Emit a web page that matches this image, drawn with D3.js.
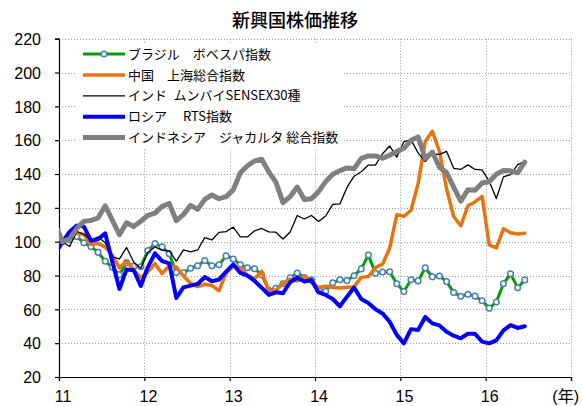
<!DOCTYPE html>
<html>
<head>
<meta charset="utf-8">
<script src="https://cdn.jsdelivr.net/npm/d3@7"></script>
<style>
  body { margin: 0; background: #fff; }
  svg { display: block; }
  text { white-space: pre; }
</style>
</head>
<body>
<svg id="chart" width="582" height="406"></svg>
<script>
// Monthly closes, index Jan 2011 = 100. First entry is Dec 2010 (left of the axis, clipped).
const monthIndex = d3.range(-1, 66); // months since Jan 2011

const brazil = [103.0, 100, 101.2, 103.0, 99.3, 97.1, 93.7, 88.4, 84.9, 80.5, 87.6, 85.4, 85.2,
  94.7, 98.9, 96.9, 92.9, 81.8, 81.6, 84.3, 85.7, 88.9, 85.7, 86.3, 91.6,
  89.8, 86.3, 84.6, 84.0, 80.4, 71.3, 72.4, 75.1, 78.6, 81.5, 78.8, 77.4,
  71.6, 70.7, 75.7, 77.5, 77.0, 79.9, 83.9, 92.1, 81.3, 82.1, 82.2, 75.1,
  70.5, 77.5, 76.8, 84.5, 79.2, 79.7, 76.4, 70.0, 67.7, 68.9, 67.8, 65.1,
  60.7, 64.3, 75.2, 81.0, 72.8, 77.4];

const china = [100.6, 100, 104.1, 104.9, 104.3, 98.3, 99.0, 96.8, 92.0, 84.5, 88.4, 83.6, 78.8,
  82.2, 87.0, 81.1, 85.9, 85.0, 79.7, 75.4, 73.4, 74.8, 74.1, 71.0, 81.3,
  85.5, 84.8, 80.1, 78.0, 82.4, 70.9, 71.4, 75.2, 77.9, 76.7, 79.6, 75.8,
  72.9, 73.7, 72.9, 72.6, 73.1, 73.4, 78.9, 79.4, 84.7, 86.7, 96.1, 115.9,
  115.0, 118.6, 134.3, 159.2, 165.3, 153.3, 131.3, 114.9, 109.4, 121.2, 123.5, 126.8,
  98.1, 96.3, 107.6, 105.3, 104.5, 105.0];

const india = [100, 100, 97.2, 106.1, 104.4, 101.0, 102.8, 99.3, 91.0, 89.8, 96.6, 88.0, 84.3,
  93.8, 96.9, 95.0, 94.5, 88.5, 95.1, 94.0, 95.1, 102.4, 101.0, 105.5, 106.0,
  108.6, 102.9, 102.8, 106.4, 107.8, 105.8, 105.6, 101.6, 105.7, 115.5, 113.4, 115.5,
  111.9, 115.2, 122.1, 122.3, 132.1, 138.7, 141.3, 145.3, 145.3, 152.0, 156.6, 150.0,
  159.2, 160.2, 152.5, 147.4, 151.8, 151.6, 153.4, 143.4, 142.7, 145.4, 142.7, 142.5,
  135.7, 125.5, 138.3, 139.7, 145.5, 147.3];

const russia = [93, 100, 105.9, 109.5, 108.9, 100.6, 101.4, 104.9, 88.2, 72.0, 83.6, 83.1, 73.8,
  85.0, 93.1, 88.5, 87.2, 66.7, 73.0, 74.0, 75.0, 79.1, 76.6, 77.6, 82.3,
  86.6, 81.5, 79.9, 76.8, 72.8, 68.5, 70.1, 69.5, 76.0, 78.7, 76.4, 77.3,
  70.0, 68.5, 66.1, 61.8, 67.5, 72.9, 66.1, 63.8, 60.0, 57.6, 52.7, 44.9,
  39.9, 48.3, 47.8, 55.5, 51.7, 50.5, 46.8, 44.4, 42.9, 45.6, 45.5, 40.9,
  39.9, 41.7, 47.6, 50.7, 49.0, 50.0];

const indonesia = [110, 100, 101.8, 107.9, 112.0, 112.5, 114.1, 121.2, 112.7, 104.1, 111.2, 109.0, 112.1,
  115.6, 116.9, 120.9, 122.6, 112.4, 116.0, 121.5, 119.1, 125.0, 127.6, 125.4, 126.6,
  130.6, 140.7, 144.9, 147.7, 148.7, 141.3, 135.2, 123.1, 126.6, 132.3, 124.9, 125.4,
  129.6, 135.5, 139.9, 142.0, 143.6, 143.1, 149.3, 150.7, 150.7, 149.3, 151.1, 153.3,
  155.2, 159.9, 161.9, 149.2, 153.0, 144.0, 140.9, 132.3, 123.9, 130.7, 130.4, 134.7,
  135.4, 139.9, 142.1, 141.9, 140.7, 147.1];

const seriesNames = ["ブラジル　ボベスパ指数", "中国　上海総合指数", "インド\u2002ムンバイSENSEX30種",
  "ロシア　 RTS指数", "インドネシア　ジャカルタ 総合指数"];
const yTicks = [20, 40, 60, 80, 100, 120, 140, 160, 180, 200, 220];
const xTickMonths = [0, 12, 24, 36, 48, 60, 72];
const xTickLabels = ["11", "12", "13", "14", "15", "16", ""];
const yearUnit = "(年)";
const title = "新興国株価推移";

const styles = [
  { color: "#00A000", width: 3, marker: true },
  { color: "#E8730F", width: 3.5 },
  { color: "#000000", width: 1.3 },
  { color: "#0000FF", width: 4 },
  { color: "#808080", width: 5 }
];
const allSeries = [brazil, china, india, russia, indonesia];

const svg = d3.select("#chart");
const plotLeft = 59, plotRight = 571, plotTop = 38.7, plotBottom = 377;

const x = d3.scaleLinear().domain([0, 72]).range([plotLeft, plotRight]);
const y = d3.scaleLinear().domain([20, 220]).range([plotBottom, plotTop]);
const px = m => x(m + 0.5); // values sit mid-month

// title
svg.append("text").attr("x", 295).attr("y", 27).attr("text-anchor", "middle")
  .style("font-family", "'Noto Sans CJK JP'").style("font-size", "18px").style("font-weight", "500")
  .attr("fill", "#000").text(title);

// dotted grid
const grid = svg.append("g").attr("stroke", "#9a9a9a").attr("stroke-width", 1)
  .attr("stroke-dasharray", "1,2").attr("fill", "none");
yTicks.filter(v => v > 20).forEach(v => {
  grid.append("line").attr("x1", plotLeft).attr("x2", plotRight)
    .attr("y1", Math.round(y(v)) + 0.5).attr("y2", Math.round(y(v)) + 0.5);
});
xTickMonths.filter(m => m > 0).forEach(m => {
  grid.append("line").attr("y1", plotTop).attr("y2", plotBottom)
    .attr("x1", Math.round(x(m)) + 0.5).attr("x2", Math.round(x(m)) + 0.5);
});

// axes
const yAxis = d3.axisLeft(y).tickValues(yTicks).tickSize(4).tickFormat(d3.format("d"));
const gy = svg.append("g").attr("transform", `translate(${plotLeft},0)`).call(yAxis);
const xAxis = d3.axisBottom(x).tickValues(xTickMonths).tickSize(4).tickFormat((d, i) => xTickLabels[i]);
const gx = svg.append("g").attr("transform", `translate(0,${plotBottom})`).call(xAxis);
[gx, gy].forEach(g => {
  g.select(".domain").attr("stroke", "#000").attr("stroke-width", 1.2);
  g.selectAll(".tick line").attr("stroke", "#000").attr("stroke-width", 1.2);
  g.selectAll("text").style("font-family", "'Liberation Sans', Arial, sans-serif")
    .style("font-size", "16px").attr("fill", "#000");
});
gy.selectAll("text").attr("x", -18).attr("dy", "0.36em");
gx.selectAll(".tick text").attr("x", x(0.5) - x(0)).attr("y", 10).attr("dy", "0.95em");
svg.append("text").attr("x", 579).attr("y", 402).attr("text-anchor", "end")
  .style("font-family", "'Liberation Sans', 'Noto Sans CJK JP', sans-serif").style("font-size", "16px")
  .text(yearUnit);

// series
svg.append("clipPath").attr("id", "plotClip").append("rect")
  .attr("x", plotLeft).attr("y", plotTop - 10).attr("width", plotRight - plotLeft)
  .attr("height", plotBottom - plotTop + 10);
const plot = svg.append("g").attr("clip-path", "url(#plotClip)");
const line = d3.line().x((d, i) => px(monthIndex[i])).y(d => y(d)).curve(d3.curveLinear);

allSeries.forEach((data, k) => {
  const s = styles[k];
  plot.append("path").datum(data).attr("d", line).attr("fill", "none")
    .attr("stroke", s.color).attr("stroke-width", s.width)
    .attr("stroke-linejoin", "round").attr("stroke-linecap", "round");
  if (s.marker) {
    plot.append("g").selectAll("circle").data(data).join("circle")
      .attr("cx", (d, i) => px(monthIndex[i])).attr("cy", d => y(d)).attr("r", 2.8)
      .attr("fill", "#fff").attr("stroke", "#4A7EBB").attr("stroke-width", 1.5);
  }
});

// legend
const lg = svg.append("g");
lg.append("rect").attr("x", 76).attr("y", 44).attr("width", 268).attr("height", 104).attr("fill", "#fff");
seriesNames.forEach((name, k) => {
  const s = styles[k];
  const ly = 54 + k * 20.9;
  lg.append("line").attr("x1", 83).attr("x2", 125).attr("y1", ly).attr("y2", ly)
    .attr("stroke", s.color).attr("stroke-width", s.width);
  if (s.marker) {
    lg.append("circle").attr("cx", 104).attr("cy", ly).attr("r", 2.8)
      .attr("fill", "#fff").attr("stroke", "#4A7EBB").attr("stroke-width", 1.5);
  }
  lg.append("text").attr("x", 128).attr("y", ly).attr("dy", "0.36em")
    .style("font-family", "'Noto Sans CJK JP'").style("font-size", "13px").attr("fill", "#000")
    .text(name);
});
</script>
</body>
</html>
